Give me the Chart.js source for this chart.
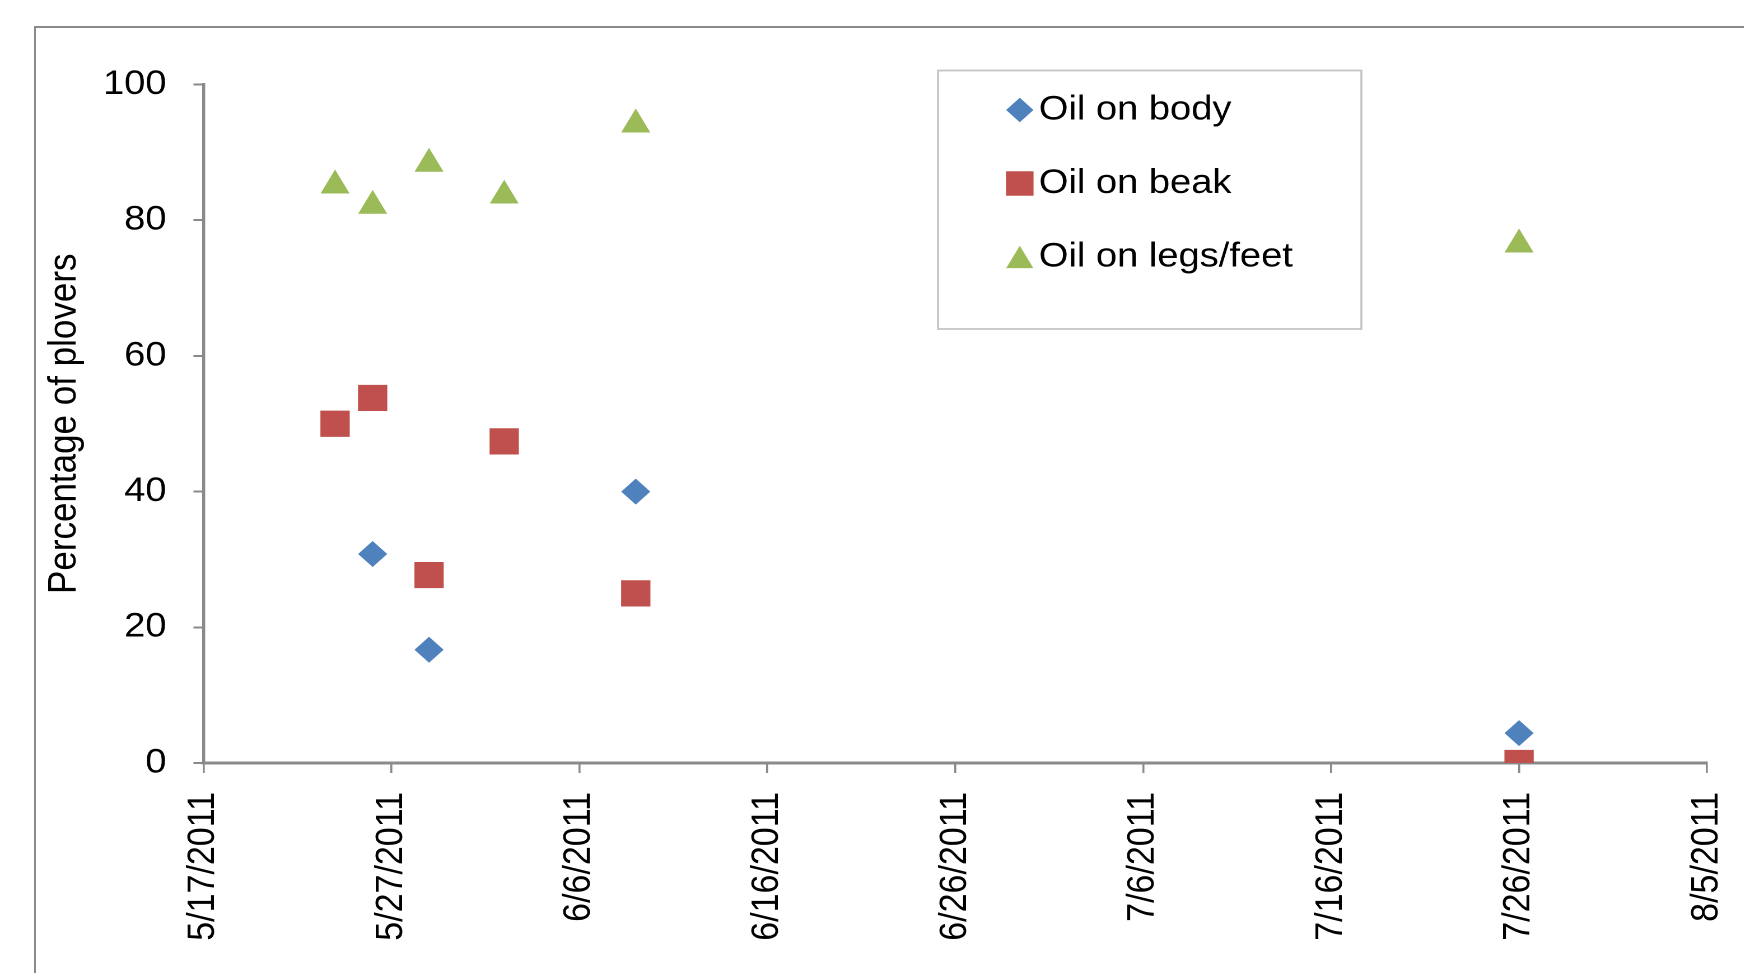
<!DOCTYPE html>
<html>
<head>
<meta charset="utf-8">
<title>Percentage of plovers with oil</title>
<script src="https://cdn.jsdelivr.net/npm/chart.js@4/dist/chart.umd.min.js"></script>
<style>
  html, body { margin: 0; padding: 0; background: #fff; overflow: hidden; width: 1744px; height: 973px; }
  #frame { position: absolute; left: 34px; top: 26px; width: 1800px; height: 1000px; border: 2px solid #8a8a8a; box-sizing: border-box; }
  #plot { position: absolute; left: 0; top: 0; transform-origin: 0 0; transform: scaleX(1.12); }
</style>
</head>
<body>
<div id="frame"></div>
<canvas id="plot" width="1557" height="973"></canvas>
<script>
// Survey dates and the share of plovers seen with oil (percent)
const surveyDates = ['5/24/2011', '5/26/2011', '5/29/2011', '6/2/2011', '6/9/2011', '7/26/2011'];
const oilOnBody = [null, 30.8, 16.7, null, 40.0, 4.4];
const oilOnBeak = [50.0, 53.8, 27.7, 47.4, 25.0, 0];
const oilOnLegsFeet = [85.7, 82.7, 88.9, 84.2, 94.7, 77.0];
const seriesNames = ['Oil on body', 'Oil on beak', 'Oil on legs/feet'];

// Axis ranges: dates are day serial numbers, one tick every 10 days
const xFirstTick = '5/17/2011';
const xLastTick = '8/5/2011';
const xTickStepDays = 10;
const yTicks = [0, 20, 40, 60, 80, 100];
const yAxisTitle = 'Percentage of plovers';

// Layout, in canvas units (the canvas is widened by STRETCH through CSS)
const STRETCH = 1.12;
const CANVAS_W = 1557, CANVAS_H = 973;
const plotLeft = 181.7, plotRight = 1524.1, plotTop = 84.5, plotBottom = 763;
const padLeft = 33;
const legendLayout = {
  left: 837.5, top: 70.5, right: 1215.5, bottom: 329,
  markerX: 910.5, textX: 927.5, firstRowY: 110, rowGap: 73.5,
  markerScale: 0.94, fontSize: 34
};

const FONT = '"Liberation Sans", Arial, Helvetica, sans-serif';
const AXIS_GRAY = '#8a8a8a';
const COLORS = ['#4F81BD', '#C0504D', '#9BBB59'];

const EPOCH = Date.UTC(1899, 11, 30);
const DAY = 86400000;
function toSerial(s) {
  const [m, d, y] = s.split('/').map(Number);
  return Math.round((Date.UTC(y, m - 1, d) - EPOCH) / DAY);
}
function fromSerial(n) {
  const dt = new Date(EPOCH + n * DAY);
  return (dt.getUTCMonth() + 1) + '/' + dt.getUTCDate() + '/' + dt.getUTCFullYear();
}
function points(values) {
  return surveyDates
    .map((d, i) => ({ x: toSerial(d), y: values[i] }))
    .filter(p => p.y !== null);
}

// Triangle marker as wide as it is tall, centred on its bounding box
function triangleMarker(w, h, color) {
  const svg = '<svg xmlns="http://www.w3.org/2000/svg" width="' + w + '" height="' + h +
    '" viewBox="0 0 ' + w + ' ' + h + '"><polygon points="' + (w / 2) + ',0 ' + w + ',' + h + ' 0,' + h +
    '" fill="' + color + '"/></svg>';
  const img = new Image(w, h);
  img.src = 'data:image/svg+xml;charset=utf-8,' + encodeURIComponent(svg);
  return img;
}

function drawMarker(ctx, ds, x, y, scale) {
  ctx.save();
  ctx.translate(x, y);
  ctx.scale(scale, scale);
  ctx.fillStyle = ds.backgroundColor;
  ctx.strokeStyle = ds.borderColor;
  if (Chart.helpers && Chart.helpers.drawPoint) {
    Chart.helpers.drawPoint(ctx, { pointStyle: ds.pointStyle, radius: ds.pointRadius, rotation: 0, borderWidth: 0 }, 0, 0);
  } else if (typeof ds.pointStyle === 'object') {
    const s = ds.pointStyle;
    ctx.drawImage(s, -s.width / 2, -s.height / 2, s.width, s.height);
  } else {
    const r = ds.pointRadius;
    ctx.beginPath();
    if (ds.pointStyle === 'rectRot') {
      ctx.moveTo(0, -r); ctx.lineTo(r, 0); ctx.lineTo(0, r); ctx.lineTo(-r, 0); ctx.closePath();
    } else {
      const h = r * Math.SQRT1_2;
      ctx.rect(-h, -h, 2 * h, 2 * h);
    }
    ctx.fill();
  }
  ctx.restore();
}

// Legend drawn as a framed box inside the plot area
const boxedLegend = {
  id: 'boxedLegend',
  afterDraw(chart) {
    const ctx = chart.ctx;
    const L = legendLayout;
    ctx.save();
    ctx.strokeStyle = '#c4c4c4';
    ctx.lineWidth = 1.8;
    ctx.strokeRect(L.left, L.top, L.right - L.left, L.bottom - L.top);
    chart.data.datasets.forEach((ds, i) => {
      const y = L.firstRowY + i * L.rowGap;
      drawMarker(ctx, ds, L.markerX, y, L.markerScale);
      ctx.fillStyle = '#000';
      ctx.font = L.fontSize + 'px ' + FONT;
      ctx.textAlign = 'left';
      ctx.textBaseline = 'middle';
      ctx.fillText(ds.label, L.textX, y);
    });
    ctx.restore();
  }
};

function build(triangleStyle) {
  Chart.defaults.font.family = FONT;
  Chart.defaults.color = '#000';

  new Chart(document.getElementById('plot'), {
    type: 'scatter',
    data: {
      datasets: [
        { label: seriesNames[0], data: points(oilOnBody), pointStyle: 'rectRot', pointRadius: 13,
          backgroundColor: COLORS[0], borderColor: COLORS[0], pointBorderWidth: 0 },
        { label: seriesNames[1], data: points(oilOnBeak), pointStyle: 'rect', pointRadius: 18.5,
          backgroundColor: COLORS[1], borderColor: COLORS[1], pointBorderWidth: 0 },
        { label: seriesNames[2], data: points(oilOnLegsFeet), pointStyle: triangleStyle, pointRadius: 16,
          backgroundColor: COLORS[2], borderColor: COLORS[2], pointBorderWidth: 0 }
      ]
    },
    options: {
      responsive: false,
      devicePixelRatio: 2,
      animation: false,
      layout: { padding: { left: padLeft, top: plotTop, right: CANVAS_W - plotRight, bottom: 0 } },
      plugins: { legend: { display: false }, tooltip: { enabled: false } },
      scales: {
        x: {
          type: 'linear',
          position: 'bottom',
          min: toSerial(xFirstTick),
          max: toSerial(xLastTick),
          afterFit: s => { s.height = CANVAS_H - plotBottom; s.paddingLeft = 0; s.paddingRight = 0; },
          ticks: {
            stepSize: xTickStepDays,
            autoSkip: false,
            minRotation: 90,
            maxRotation: 90,
            padding: 19,
            font: { size: 34 },
            color: '#000',
            callback: v => fromSerial(v)
          },
          grid: { drawOnChartArea: false, drawTicks: true, tickLength: 10, color: AXIS_GRAY, lineWidth: 1.8 },
          border: { display: true, color: AXIS_GRAY, width: 3 }
        },
        y: {
          min: yTicks[0],
          max: yTicks[yTicks.length - 1],
          afterFit: s => { s.width = plotLeft - padLeft; s.paddingTop = 0; s.paddingBottom = 0; },
          ticks: {
            stepSize: yTicks[1] - yTicks[0],
            padding: 24,
            font: { size: 34 },
            color: '#000'
          },
          title: { display: true, text: yAxisTitle, font: { size: 35 }, color: '#000', padding: { top: 4, bottom: 4 } },
          grid: { drawOnChartArea: false, drawTicks: true, tickLength: 9, color: AXIS_GRAY, lineWidth: 2 },
          border: { display: true, color: AXIS_GRAY, width: 2.7 }
        }
      }
    },
    plugins: [boxedLegend]
  });
}

const tri = triangleMarker(26, 24, COLORS[2]);
let built = false;
function start(style) { if (!built) { built = true; build(style); } }
tri.onload = () => start(tri);
tri.onerror = () => start('triangle');
</script>
</body>
</html>
